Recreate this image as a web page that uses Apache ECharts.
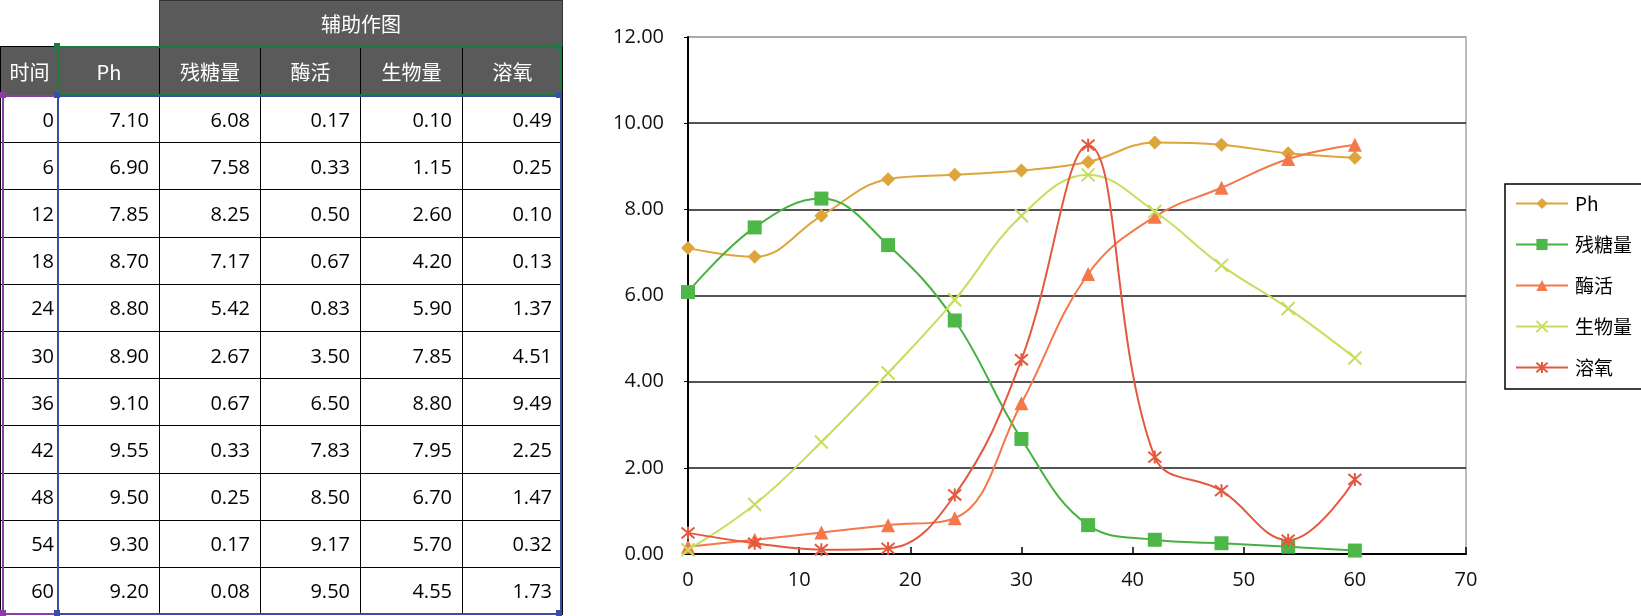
<!DOCTYPE html>
<html>
<head>
<meta charset="utf-8">
<script src="https://cdn.jsdelivr.net/npm/echarts@6/dist/echarts.min.js"></script>
<style>
  html, body { margin: 0; padding: 0; background: #fff; }
  #wrap { position: relative; width: 1641px; height: 616px; overflow: hidden; }
  #chart { position: absolute; left: 0; top: 0; width: 1641px; height: 616px; }
  #tbl { position: absolute; left: 0; top: 0; border-collapse: collapse; table-layout: fixed;
         font-family: "Open Sans", "Noto Sans CJK SC", sans-serif; font-size: 20px; color: #000; }
  #tbl td { border: 1px solid #000; padding: 0 10px 0 0; text-align: right; height: 46px; box-sizing: border-box; }
  #tbl td.h { background: #5a5a5a; color: #fff; text-align: center; padding: 0; font-family: "Noto Sans CJK SC", "Open Sans", sans-serif; }
  #tbl td.blank { border: none; background: transparent; }
  .hl { position: absolute; box-sizing: border-box; pointer-events: none; }
  .sq { position: absolute; width: 6px; height: 6px; }
</style>
</head>
<body>
<div id="wrap">
  <div id="chart"></div>
  <table id="tbl"></table>
  <div class="hl" style="left:57px;top:46px;width:505px;height:50px;border:2px solid #1f7a3d;"></div>
  <div class="hl" style="left:2px;top:95px;width:57px;height:520px;border:2px solid #8b3fa6;border-right:none;"></div>
  <div class="hl" style="left:57px;top:95px;width:505px;height:520px;border:2px solid #3a4ea6;"></div>
  <div class="sq" style="left:54px;top:43px;background:#1f7a3d;"></div>
  <div class="sq" style="left:556px;top:43px;background:#1f7a3d;"></div>
  <div class="sq" style="left:0px;top:92px;background:#8b3fa6;"></div>
  <div class="sq" style="left:54px;top:92px;background:#3a4ea6;"></div>
  <div class="sq" style="left:556px;top:92px;background:#3a4ea6;"></div>
  <div class="sq" style="left:0px;top:610px;background:#8b3fa6;"></div>
  <div class="sq" style="left:54px;top:610px;background:#3a4ea6;"></div>
  <div class="sq" style="left:556px;top:610px;background:#3a4ea6;"></div>
</div>
<script>
// ---- data ----
const times   = [0, 6, 12, 18, 24, 30, 36, 42, 48, 54, 60];
const ph      = [7.10, 6.90, 7.85, 8.70, 8.80, 8.90, 9.10, 9.55, 9.50, 9.30, 9.20];
const sugar   = [6.08, 7.58, 8.25, 7.17, 5.42, 2.67, 0.67, 0.33, 0.25, 0.17, 0.08];
const enzyme  = [0.17, 0.33, 0.50, 0.67, 0.83, 3.50, 6.50, 7.83, 8.50, 9.17, 9.50];
const biomass = [0.10, 1.15, 2.60, 4.20, 5.90, 7.85, 8.80, 7.95, 6.70, 5.70, 4.55];
const oxygen  = [0.49, 0.25, 0.10, 0.13, 1.37, 4.51, 9.49, 2.25, 1.47, 0.32, 1.73];
const seriesNames = ['Ph', '残糖量', '酶活', '生物量', '溶氧'];
const timeHeader = '时间';
const bandTitle = '辅助作图';
const yTicks = [0, 2, 4, 6, 8, 10, 12];
const xTicks = [0, 10, 20, 30, 40, 50, 60, 70];

// ---- table ----
const colW = [58, 101, 101, 100, 102, 100];
const tbl = document.getElementById('tbl');
let html = '<colgroup>' + colW.map(w => '<col style="width:' + w + 'px">').join('') + '</colgroup>';
html += '<tr><td class="blank"></td><td class="blank"></td><td class="h" colspan="4" style="border:1px solid #333">' + bandTitle + '</td></tr>';
html += '<tr><td class="h" style="height:49px">' + timeHeader + '</td>' + seriesNames.map(n => '<td class="h" style="height:49px">' + n + '</td>').join('') + '</tr>';
const cols = [ph, sugar, enzyme, biomass, oxygen];
times.forEach((t, i) => {
  html += '<tr><td style="height:47.2px;padding-right:4px">' + t + '</td>' + cols.map(c => '<td style="height:47.2px">' + c[i].toFixed(2) + '</td>').join('') + '</tr>';
});
tbl.innerHTML = html;
tbl.style.width = colW.reduce((a, b) => a + b, 0) + 'px';

// ---- chart ----
const font = '"Open Sans", "Noto Sans CJK SC", sans-serif';
const colors = ['#DDA53A', '#46B140', '#F4784A', '#C6DE5C', '#E4583F'];
const crossPath = 'path://M0,0L10,10M10,0L0,10';
const starPath = 'path://M0,0L10,10M10,0L0,10M5,-1L5,11';
const symbols = ['diamond', 'rect', 'triangle', crossPath, starPath];
const sizes = [14, 14, 14, 13, 13];
const dataCols = [ph, sugar, enzyme, biomass, oxygen];

const series = seriesNames.map((name, k) => {
  const isLine = k >= 3;
  return {
    name: name,
    type: 'line',
    smooth: 0.4,
    data: times.map((t, i) => [t, dataCols[k][i]]),
    symbol: symbols[k],
    symbolSize: sizes[k],
    showSymbol: true,
    lineStyle: { color: colors[k], width: 2 },
    itemStyle: isLine
      ? { color: colors[k], borderColor: colors[k], borderWidth: 2 }
      : { color: k === 1 ? '#4DB848' : colors[k], borderWidth: 0 },
    emphasis: { disabled: true },
    z: 3 + k
  };
});

const chart = echarts.init(document.getElementById('chart'), null, { renderer: 'canvas' });
chart.setOption({
  animation: false,
  backgroundColor: 'transparent',
  textStyle: { fontFamily: font },
  grid: {
    left: 688, top: 37, width: 778, height: 517,
    show: true, borderColor: '#a6a6a6', borderWidth: 1.5, containLabel: false
  },
  legend: {
    orient: 'vertical',
    left: 1505, top: 184,
    width: 134,
    padding: [10, 12, 12, 10],
    itemWidth: 52, itemHeight: 14,
    itemGap: 22,
    borderColor: '#000', borderWidth: 1.5,
    backgroundColor: '#fff',
    textStyle: { fontSize: 19, color: '#000', fontFamily: '"Noto Sans CJK SC", "Open Sans", sans-serif', padding: [0, 0, 0, 2] },
    data: seriesNames
  },
  xAxis: {
    type: 'value', min: xTicks[0], max: xTicks[xTicks.length - 1], interval: 10,
    axisLine: { show: true, lineStyle: { color: '#000', width: 2 } },
    axisTick: { show: true, inside: true, length: 7, lineStyle: { color: '#000', width: 1.5 } },
    axisLabel: { fontSize: 20, color: '#111', margin: 16, fontFamily: font },
    splitLine: { show: false }
  },
  yAxis: {
    type: 'value', min: yTicks[0], max: yTicks[yTicks.length - 1], interval: 2,
    axisLine: { show: true, lineStyle: { color: '#000', width: 2 } },
    axisTick: { show: true, inside: false, length: 4, lineStyle: { color: '#000' } },
    axisLabel: { fontSize: 20, color: '#111', margin: 24, fontFamily: font, formatter: v => v.toFixed(2) },
    splitLine: { show: true, lineStyle: { color: ['#000', '#1a1a1a', '#1a1a1a', '#1a1a1a', '#1a1a1a', '#1a1a1a', '#a6a6a6'], width: 1.5 } }
  },
  series: series
});
</script>
</body>
</html>
